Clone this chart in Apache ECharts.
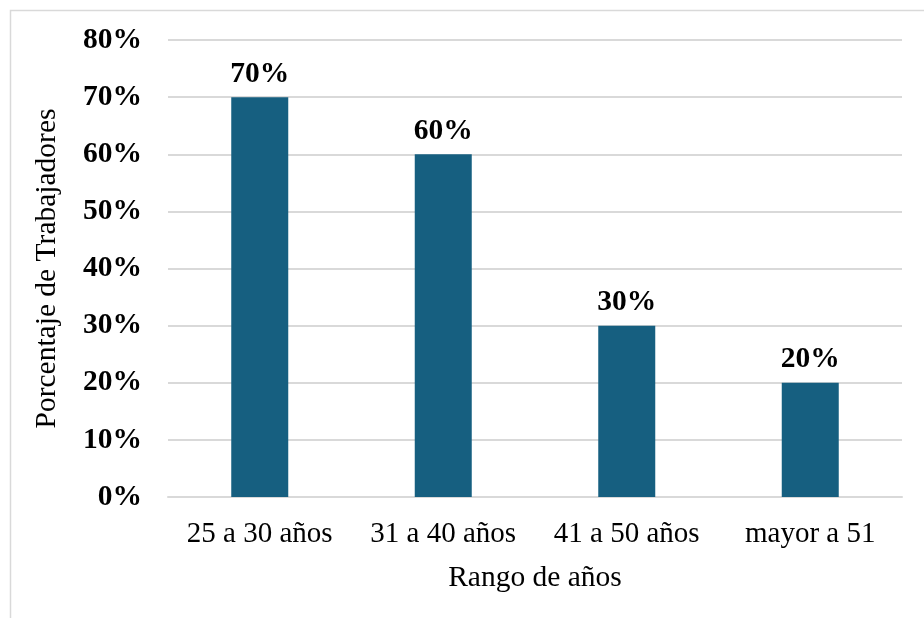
<!DOCTYPE html>
<html>
<head>
<meta charset="utf-8">
<script src="https://cdn.jsdelivr.net/npm/echarts@6/dist/echarts.min.js"></script>
<style>
html,body{margin:0;padding:0;background:#fff;}
#chart{width:924px;height:618px;}
</style>
</head>
<body>
<div id="chart"></div>
<script>
const categories = ['25 a 30 años', '31 a 40 años', '41 a 50 años', 'mayor a 51'];
const values = [70, 60, 30, 20];
const xAxisTitle = 'Rango de años';
const yAxisTitle = 'Porcentaje de Trabajadores';

const chart = echarts.init(document.getElementById('chart'), null, {renderer: 'canvas'});
const serif = '"Liberation Serif", "Times New Roman", serif';
chart.setOption({
  animation: false,
  backgroundColor: '#ffffff',
  graphic: [{
    type: 'polyline',
    shape: {points: [[10.5, 618], [10.5, 10.5], [924, 10.5]]},
    style: {stroke: '#d9d9d9', lineWidth: 1.5, fill: null},
    silent: true
  }],
  grid: {left: 168, right: 22, top: 40, bottom: 121},
  xAxis: {
    type: 'category',
    data: categories,
    name: xAxisTitle,
    nameLocation: 'middle',
    nameGap: 66,
    nameTextStyle: {fontFamily: serif, fontSize: 29.5, color: '#000'},
    axisLine: {show: true, lineStyle: {color: '#d9d9d9', width: 2}},
    axisTick: {show: false},
    axisLabel: {fontFamily: serif, fontSize: 29, color: '#000', margin: 23, interval: 0, hideOverlap: false}
  },
  yAxis: {
    type: 'value',
    min: 0,
    max: 80,
    interval: 10,
    name: yAxisTitle,
    nameLocation: 'middle',
    nameGap: 106,
    nameTextStyle: {fontFamily: serif, fontSize: 29.5, color: '#000'},
    axisLine: {show: false},
    axisTick: {show: false},
    splitLine: {lineStyle: {color: '#d9d9d9', width: 2}},
    axisLabel: {
      fontFamily: serif, fontSize: 29.5, fontWeight: 'bold', color: '#000', margin: 26,
      formatter: v => v + '%'
    }
  },
  series: [{
    type: 'bar',
    data: values,
    barWidth: 57,
    itemStyle: {color: '#165f80'},
    label: {
      show: true,
      position: 'top',
      distance: 8,
      fontFamily: serif, fontSize: 29.5, fontWeight: 'bold', color: '#000',
      formatter: p => p.value + '%'
    }
  }]
});
</script>
</body>
</html>
